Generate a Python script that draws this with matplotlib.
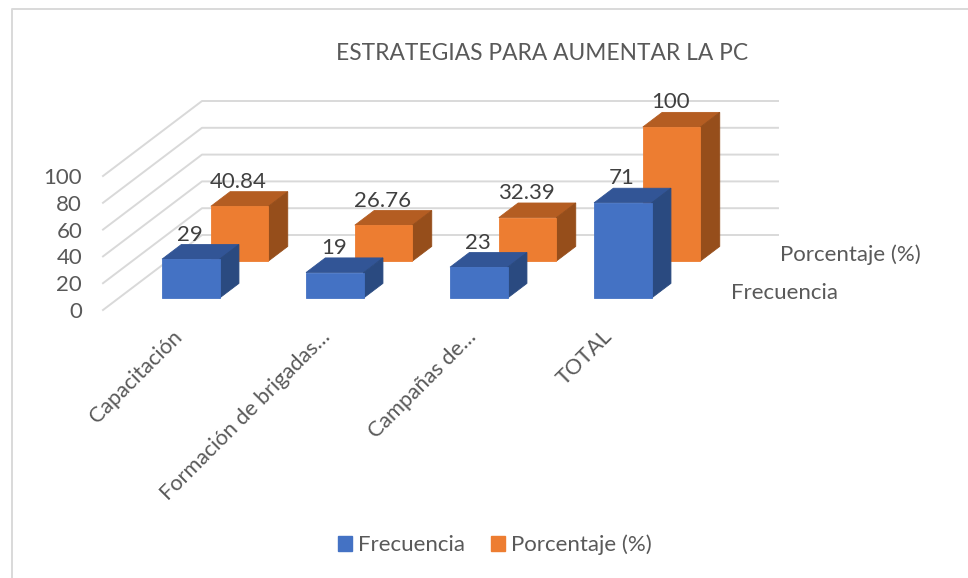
import matplotlib
matplotlib.use("Agg")
import matplotlib.pyplot as plt
from matplotlib.patches import Polygon, Patch
from matplotlib.lines import Line2D
from matplotlib.transforms import IdentityTransform, Affine2D
import numpy as np

categories = ["Capacitación", "Formación de brigadas…", "Campañas de…", "TOTAL"]
frecuencia = [29, 19, 23, 71]
porcentaje = [40.84, 26.76, 32.39, 100]
freq_labels = ["29", "19", "23", "71"]
pct_labels = ["40.84", "26.76", "32.39", "100"]
y_ticks = [0, 20, 40, 60, 80, 100]
title = "ESTRATEGIAS PARA AUMENTAR LA PC"
series_names = ["Frecuencia", "Porcentaje (%)"]

W, H = 968, 578
plt.rcParams["font.family"] = ["Lato", "DejaVu Sans"]
TXT = "#595959"
DARK = "#404040"
GRID = "#D9D9D9"
FS = 16

fig = plt.figure(figsize=(W / 100, H / 100), dpi=100, facecolor="white")
# front plane of the oblique box: x 103..679 px, value 0..100 -> y 310..176 px
ax = fig.add_axes([103 / W, 1 - 310 / H, 576 / W, 134 / H])
ax.set_xlim(-0.5, 3.5)
ax.set_ylim(0, 100)
ax.patch.set_visible(False)
for s in ax.spines.values():
    s.set_visible(False)

DEPTH = np.array([99.0, 75.0])   # px shift of the whole depth axis
ID = IdentityTransform()


def proj(x, v, d):
    return ax.transData.transform((x, v)) + d * DEPTH


# wall gridlines
for v in y_ticks:
    a, b = proj(-0.5, v, 0), proj(-0.5, v, 1)
    c = proj(3.5, v, 1)
    fig.add_artist(Line2D([a[0], b[0], c[0]], [a[1], b[1], c[1]], transform=ID,
                          color=GRID, lw=1.4, zorder=1))

BAR_W = 0.4
BAR_D = 0.195


def box(i, val, d0, front, top, side, z):
    x0, x1 = i - BAR_W / 2, i + BAR_W / 2
    d1 = d0 + BAR_D
    faces = [
        ([proj(x0, val, d0), proj(x1, val, d0), proj(x1, val, d1), proj(x0, val, d1)], top),
        ([proj(x1, 0, d0), proj(x1, 0, d1), proj(x1, val, d1), proj(x1, val, d0)], side),
        ([proj(x0, 0, d0), proj(x1, 0, d0), proj(x1, val, d0), proj(x0, val, d0)], front),
    ]
    for pts, col in faces:
        fig.add_artist(Polygon(np.array(pts), closed=True, transform=ID, facecolor=col,
                               edgecolor=col, lw=0.6, zorder=z))


D_BLUE, D_ORANGE = 0.16, 0.653
BLUE = ("#4472C4", "#325596", "#2A4A80")
ORANGE = ("#ED7D31", "#B45D22", "#964E1B")

for i, v in enumerate(porcentaje):
    box(i, v, D_ORANGE, *ORANGE, 2 + i * 0.01)
for i, v in enumerate(frecuencia):
    box(i, v, D_BLUE, *BLUE, 3 + i * 0.01)

# data labels
for vals, labs, d in ((frecuencia, freq_labels, D_BLUE), (porcentaje, pct_labels, D_ORANGE)):
    for i, (v, l) in enumerate(zip(vals, labs)):
        p = proj(i, v, d + BAR_D)
        fp = proj(i, v, d)
        fig.text((fp[0] - 1) / W, (p[1] + 10) / H, l, ha="center", va="center",
                 color=DARK, fontsize=FS, zorder=6)

# axes labels
ax.set_yticks(y_ticks)
ax.set_yticklabels([str(v) for v in y_ticks], color=TXT, fontsize=FS)
ax.tick_params(axis="y", length=0, pad=15)
ax.set_xticks(range(len(categories)))
ax.set_xticklabels(categories, rotation=45, ha="right", rotation_mode="anchor",
                   color=TXT, fontsize=15.6)
ax.tick_params(axis="x", length=0, pad=14)
for lab, dx in zip(ax.get_xticklabels(), (-3, 1, 3, -5)):
    lab.set_transform(lab.get_transform() + Affine2D().translate(dx, 3))

# depth axis series names
for name, d, dy in zip(series_names, (D_BLUE + 0.1, D_ORANGE + 0.1), (-2.5, -1)):
    p = proj(3.5, 0, d)
    fig.text((p[0] + 26) / W, (p[1] + dy) / H, name, ha="left", va="center",
             color=TXT, fontsize=FS, zorder=6)

fig.text(542 / W, 1 - 53 / H, title, ha="center", va="center", color=TXT, fontsize=16.4)

handles = [Patch(color=BLUE[0]), Patch(color=ORANGE[0])]
fig.legend(handles, series_names, loc="center", bbox_to_anchor=(495 / W, 1 - 545 / H),
           ncol=2, frameon=False, fontsize=FS, labelcolor=TXT, handlelength=0.6,
           handleheight=0.6, handletextpad=0.27, columnspacing=1.2)

# chart frame
fig.add_artist(Line2D([11.5, 11.5, W], [0, H - 8.5, H - 8.5], transform=ID, color=GRID, lw=1.4))

fig.savefig("out.png", dpi=100)
